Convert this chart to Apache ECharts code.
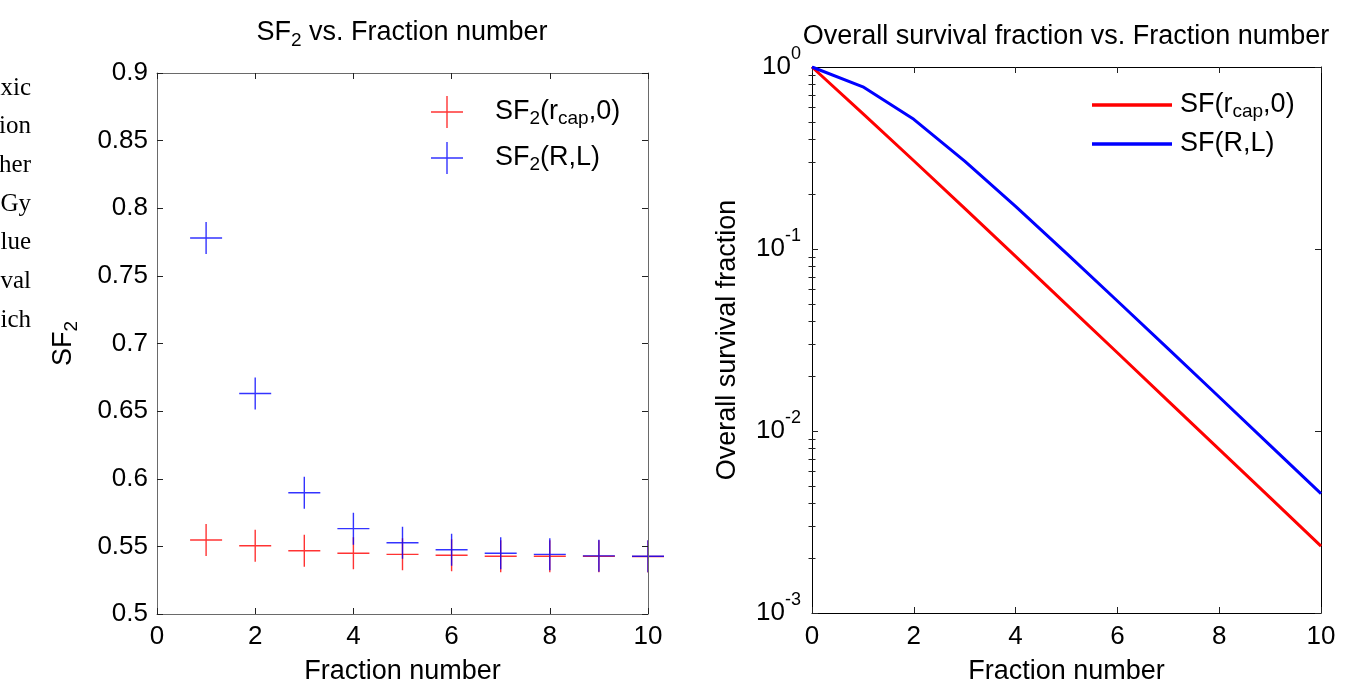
<!DOCTYPE html>
<html><head><meta charset="utf-8">
<script src="https://cdn.jsdelivr.net/npm/echarts@6/dist/echarts.min.js"></script>
<style>html,body{margin:0;padding:0;background:#fff}#c{width:1371px;height:691px}</style>
</head><body><div id="c"></div>
<script>
// ---- data ----
const fractions = [1, 2, 3, 4, 5, 6, 7, 8, 9, 10];
const sf2Rcap = [0.5547, 0.5505, 0.5468, 0.5449, 0.5441, 0.5434, 0.5427, 0.5427, 0.5427, 0.5425];
const sf2RL   = [0.778, 0.663, 0.5897, 0.5631, 0.5527, 0.5475, 0.5449, 0.5441, 0.5430, 0.5427];
const fractionsAll = [0, 1, 2, 3, 4, 5, 6, 7, 8, 9, 10];
const sfRcap = [1, 0.5547, 0.3054, 0.1670, 0.0910, 0.04952, 0.02691, 0.01460, 0.00793, 0.00430, 0.00233];
const sfRL   = [1, 0.778, 0.516, 0.304, 0.1713, 0.0947, 0.0518, 0.02824, 0.01537, 0.00834, 0.00453];
const logMajorTicks = [0.001, 0.01, 0.1, 1];
const sideText = ['xic', 'ion', 'her', 'Gy', 'lue', 'val', 'ich'];
const names = {
  a: 'SF2(rcap,0)', b: 'SF2(R,L)', c: 'SF(rcap,0)', d: 'SF(R,L)'
};
const richNames = {
  'SF2(rcap,0)': '{m|SF}{s|2}{m|(r}{s|cap}{m|,0)}',
  'SF2(R,L)': '{m|SF}{s|2}{m|(R,L)}',
  'SF(rcap,0)': '{m|SF(r}{s|cap}{m|,0)}',
  'SF(R,L)': '{m|SF(R,L)}'
};

// minor log ticks (axis decoration)
const logMinorTicks = [];
for (let e = -3; e < 0; e++) for (let k = 2; k <= 9; k++) logMinorTicks.push(+(k * Math.pow(10, e)).toPrecision(3));

const F = '"Liberation Sans", Arial, sans-serif';
const FS = 27, TS = 26;
function richSub(lh) {
  return {
    m: {fontSize: FS, fontFamily: F, color: '#000', fontWeight: 'normal', lineHeight: lh},
    s: {fontSize: 19, fontFamily: F, color: '#000', fontWeight: 'normal', lineHeight: 19, verticalAlign: 'bottom'}
  };
}
const richSup = {
  m: {fontSize: 26, fontFamily: F, color: '#000', lineHeight: 44},
  p: {fontSize: 18, fontFamily: F, color: '#000', lineHeight: 18, verticalAlign: 'top'}
};
const PLUS = 'path://M15.3,0h1.4v32h-1.4z M0,15.3h32v1.4h-32z';
const BAR = 'path://M0,0h0.01v0.01h-0.01z M0,14.3h80v3.4h-80z M79.99,31.99h0.01v0.01h-0.01z';

const leftLine = '#6a6a6a', tickCol = '#222';
function boxAxis(extra, color) {
  return Object.assign({
    z: 3,
    axisLine: {show: true, onZero: false, lineStyle: {color: color, width: 1}},
    axisTick: {show: true, inside: true, length: 6, lineStyle: {color: tickCol}},
    axisLabel: {show: false},
    splitLine: {show: false}
  }, extra);
}

const chart = echarts.init(document.getElementById('c'), null, {renderer: 'canvas'});
chart.setOption({
  animation: false,
  backgroundColor: '#fff',
  title: [
    {text: '{m|SF}{s|2}{m| vs. Fraction number}', left: 402, top: 16, textAlign: 'center', padding: 0,
     textStyle: {fontWeight: 'normal', fontSize: FS, fontFamily: F, color: '#000', rich: richSub(34)}},
    {text: 'Overall survival fraction vs. Fraction number', left: 1066, top: 23, textAlign: 'center', padding: 0,
     textStyle: {fontWeight: 'normal', fontSize: FS, fontFamily: F, color: '#000', lineHeight: 28}}
  ],
  legend: [
    {data: [{name: names.a, icon: PLUS}, {name: names.b, icon: PLUS}], orient: 'vertical', left: 431, top: 96,
     itemWidth: 32, itemHeight: 32, itemGap: 14, padding: 0, selectedMode: false,
     formatter: n => richNames[n],
     textStyle: {fontSize: FS, fontFamily: F, color: '#000', padding: [0, 0, 0, 27], rich: richSub(32)}},
    {data: [{name: names.c, icon: BAR}, {name: names.d, icon: BAR}], orient: 'vertical', left: 1092, top: 89,
     itemWidth: 80, itemHeight: 32, itemGap: 7, padding: 0, selectedMode: false,
     formatter: n => richNames[n],
     textStyle: {fontSize: FS, fontFamily: F, color: '#000', padding: [0, 0, 0, 3], rich: richSub(32)}}
  ],
  grid: [
    {left: 157, top: 73, width: 491, height: 541, containLabel: false, outerBoundsMode: 'none'},
    {left: 812, top: 67, width: 509, height: 546, containLabel: false, outerBoundsMode: 'none'}
  ],
  xAxis: [
    boxAxis({type: 'value', gridIndex: 0, position: 'bottom', min: 0, max: 10, interval: 2,
      axisLabel: {show: true, margin: 10, fontSize: TS, fontFamily: F, color: '#000'},
      name: 'Fraction number', nameLocation: 'middle', nameGap: 44,
      nameTextStyle: {fontSize: FS, fontFamily: F, color: '#000', lineHeight: 28}}, leftLine),
    boxAxis({type: 'value', gridIndex: 0, position: 'top', min: 0, max: 10, interval: 2}, leftLine),
    boxAxis({type: 'value', gridIndex: 1, position: 'bottom', min: 0, max: 10, interval: 2,
      axisLabel: {show: true, margin: 11, fontSize: TS, fontFamily: F, color: '#000'},
      name: 'Fraction number', nameLocation: 'middle', nameGap: 45,
      nameTextStyle: {fontSize: FS, fontFamily: F, color: '#000', lineHeight: 28}}, '#000'),
    boxAxis({type: 'value', gridIndex: 1, position: 'top', min: 0, max: 10, interval: 2}, '#000')
  ],
  yAxis: [
    boxAxis({type: 'value', gridIndex: 0, position: 'left', min: 0.5, max: 0.9, interval: 0.05,
      axisLabel: {show: true, margin: 9, fontSize: TS, fontFamily: F, color: '#000'},
      name: '{m|SF}{s|2}', nameLocation: 'middle', nameGap: 76, nameRotate: 90,
      nameTextStyle: {fontSize: FS, fontFamily: F, color: '#000', rich: richSub(34)}}, leftLine),
    boxAxis({type: 'value', gridIndex: 0, position: 'right', min: 0.5, max: 0.9, interval: 0.05}, leftLine),
    boxAxis({type: 'log', logBase: 10, gridIndex: 1, position: 'left', min: 0.001, max: 1,
      axisTick: {show: true, inside: true, length: 6, customValues: logMajorTicks, lineStyle: {color: tickCol}},
      axisLabel: {show: true, margin: 11, customValues: logMajorTicks,
        formatter: v => '{m|10}{p|' + Math.round(Math.log10(v)) + '}', rich: richSup},
      name: 'Overall survival fraction', nameLocation: 'middle', nameGap: 70, nameRotate: 90,
      nameTextStyle: {fontSize: FS, fontFamily: F, color: '#000', lineHeight: 28}}, '#000'),
    boxAxis({type: 'log', logBase: 10, gridIndex: 1, position: 'right', min: 0.001, max: 1,
      axisTick: {show: true, inside: true, length: 6, customValues: logMajorTicks, lineStyle: {color: tickCol}}}, '#000'),
    boxAxis({type: 'log', logBase: 10, gridIndex: 1, position: 'left', min: 0.001, max: 1,
      axisLine: {show: false},
      axisTick: {show: true, inside: true, length: 3.5, customValues: logMinorTicks, lineStyle: {color: tickCol}}}, '#000'),
    boxAxis({type: 'log', logBase: 10, gridIndex: 1, position: 'right', min: 0.001, max: 1,
      axisLine: {show: false},
      axisTick: {show: true, inside: true, length: 3.5, customValues: logMinorTicks, lineStyle: {color: tickCol}}}, '#000')
  ],
  series: [
    {name: names.a, type: 'scatter', xAxisIndex: 0, yAxisIndex: 0, symbol: PLUS, symbolSize: 32,
     itemStyle: {color: '#ff0000'}, data: fractions.map((x, i) => [x, sf2Rcap[i]])},
    {name: names.b, type: 'scatter', xAxisIndex: 0, yAxisIndex: 0, symbol: PLUS, symbolSize: 32,
     itemStyle: {color: '#0000ff'}, data: fractions.map((x, i) => [x, sf2RL[i]])},
    {name: names.c, type: 'line', xAxisIndex: 2, yAxisIndex: 2, showSymbol: false, symbol: 'none',
     itemStyle: {color: '#ff0000'}, lineStyle: {color: '#ff0000', width: 3},
     data: fractionsAll.map((x, i) => [x, sfRcap[i]])},
    {name: names.d, type: 'line', xAxisIndex: 2, yAxisIndex: 2, showSymbol: false, symbol: 'none',
     itemStyle: {color: '#0000ff'}, lineStyle: {color: '#0000ff', width: 3},
     data: fractionsAll.map((x, i) => [x, sfRL[i]])}
  ],
  graphic: sideText.map((t, i) => ({
    type: 'text', silent: true,
    style: {text: t, x: 31, y: 88 + i * 38.7, font: '25px "Liberation Serif", "Times New Roman", serif',
      fill: '#000', textAlign: 'right', textVerticalAlign: 'middle'}
  }))
});
</script></body></html>
